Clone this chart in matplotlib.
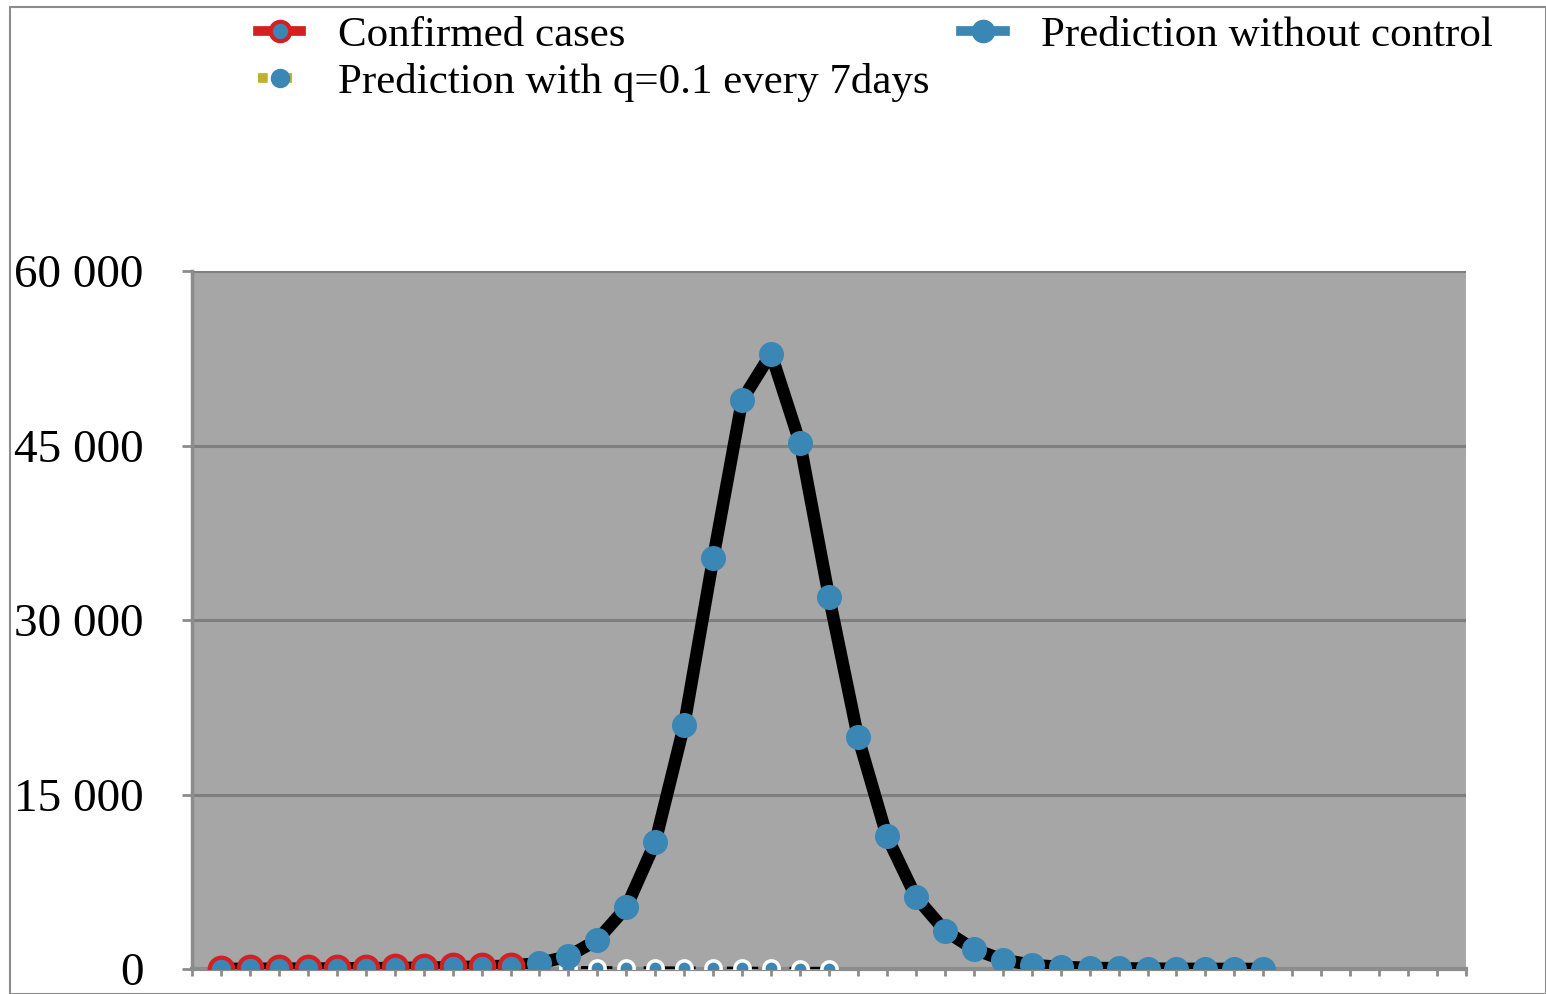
import numpy as np
import matplotlib.pyplot as plt
from matplotlib.lines import Line2D
from matplotlib.patches import Rectangle
from matplotlib.ticker import FuncFormatter

# days since start (category index)
days_confirmed = list(range(0, 11))
confirmed = [40, 45, 60, 80, 100, 120, 150, 180, 220, 260, 300]

days_pred = list(range(0, 37))
pred_no_control = [10, 15, 22, 32, 45, 62, 85, 110, 150, 210, 280,
                   500, 1100, 2500, 5300, 10900, 21000, 35300, 48900, 52900,
                   45200, 32000, 19950, 11400, 6200, 3300, 1700, 800, 350,
                   170, 100, 60, 30, 15, 8, 4, 2]

days_q = list(range(11, 22))
pred_q = [120, 110, 100, 90, 80, 70, 60, 50, 45, 40, 35]

yticks = [0, 15000, 30000, 45000, 60000]

plt.rcParams['font.family'] = ['Liberation Serif', 'DejaVu Serif']

fig = plt.figure(figsize=(15.46, 9.94), dpi=100)
ax = fig.add_axes([192 / 1546, 25 / 994, 1274 / 1546, 698 / 994])
ax.set_facecolor('#a6a6a6')

blue = '#3a87b5'
red = '#d42020'

# q = 0.1 prediction: dashed black line with white-edged markers
ax.plot(days_q, pred_q, color='black', lw=2.5, ls=(0, (3, 3)),
        marker='o', ms=11, mfc=blue, mec='white', mew=2.5, zorder=3)

# prediction without control
ax.plot(days_pred, pred_no_control, color='black', lw=9, zorder=4,
        marker='o', ms=17, mfc=blue, mec=blue, solid_capstyle='round')

# confirmed cases
ax.plot(days_confirmed, confirmed, color=red, lw=0, zorder=5,
        marker='o', ms=17, mfc=blue, mec=red, mew=3)

ax.set_xlim(-1, 43)
ax.set_ylim(0, 60000)
ax.set_yticks(yticks)
ax.yaxis.set_major_formatter(FuncFormatter(lambda v, p: f'{int(v):,}'.replace(',', ' ')))
ax.set_xticks(range(-1, 44))
ax.set_xticklabels([])
ax.grid(axis='y', color='#7f7f7f', lw=2.2)
ax.set_axisbelow(True)
for s in ['top', 'right']:
    ax.spines[s].set_visible(False)
ax.spines['left'].set_color('#8c8c8c')
ax.spines['left'].set_linewidth(2.5)
ax.spines['bottom'].set_color('#8c8c8c')
ax.spines['bottom'].set_linewidth(3)
ax.tick_params(axis='y', length=7, width=2, color='#8c8c8c', labelsize=34, pad=28)
ax.tick_params(axis='x', length=5, width=2, color='#8c8c8c')

# outer chart border
fig.patches.append(Rectangle((10 / 1546, 0), 1 - 10 / 1546, 1 - 7 / 994,
                             transform=fig.transFigure, fill=False,
                             edgecolor='#8c8c8c', lw=1.5))

handles = [
    Line2D([], [], color=red, lw=7, marker='o', ms=14, mfc=blue, mec=red, mew=3),
    Line2D([], [], color='#c0b030', lw=7, ls=(0, (1, 1.5)), marker='o', ms=13, mfc=blue, mec=blue),
    Line2D([], [], color=blue, lw=7, marker='o', ms=16, mfc=blue, mec=blue),
]
labels = ['Confirmed cases', 'Prediction with q=0.1 every 7days', 'Prediction without control']
fig.legend(handles, labels, ncol=2, loc='upper left', bbox_to_anchor=(258 / 1546, 1 - 16 / 994),
           frameon=False, fontsize=31, handlelength=1.0, handletextpad=0.85,
           columnspacing=0.75, labelspacing=0.17, borderaxespad=0, borderpad=0)

fig.savefig('out.png', dpi=100)
